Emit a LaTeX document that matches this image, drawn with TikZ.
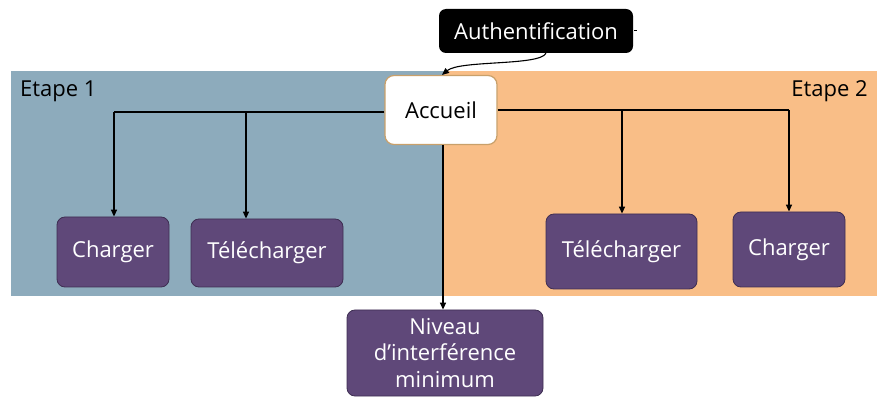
\documentclass[tikz,border=0pt]{standalone}
\usepackage{fontspec}
\setmainfont{Open Sans}
\usetikzlibrary{arrows.meta}
\definecolor{stepblue}{HTML}{8DABBC}
\definecolor{steporange}{HTML}{F9BE87}
\definecolor{boxpurple}{HTML}{5F4879}
\definecolor{boxborder}{HTML}{3E2E52}
\definecolor{accborder}{HTML}{C9A06A}
\begin{document}
\begin{tikzpicture}[x=1pt,y=-1pt,
  purplebox/.style={draw=boxborder,line width=0.8pt,fill=boxpurple,rounded corners=8pt,text=white,font=\fontsize{22}{26}\selectfont,align=center,inner sep=0pt},
  conn/.style={draw=black,line width=1.3pt,-{Triangle[length=7pt,width=6pt]}},
  lbl/.style={font=\fontsize{22}{26}\selectfont,text=black,inner sep=0pt}]
\useasboundingbox (0,0) rectangle (879,398);
\fill[stepblue] (11,71) rectangle (444,296);
\fill[steporange] (444,71) rectangle (877,296);
\node[lbl,anchor=west] (e1) at (20,91) {Etape 1};
\node[lbl,anchor=east] (e2) at (868,91) {Etape 2};
\node[draw=accborder,line width=1.2pt,fill=white,rounded corners=9pt,minimum width=112pt,minimum height=69pt,inner sep=0pt,font=\fontsize{22}{26}\selectfont] (acc) at (441,110) {Accueil};
\node[fill=black,rounded corners=7pt,minimum width=194pt,minimum height=44pt,inner sep=0pt,text=white,font=\fontsize{22}{26}\selectfont] (auth) at (536,31) {Authentification};
\node[purplebox,minimum width=112pt,minimum height=70pt] (ch1) at (113,252) {Charger};
\node[purplebox,minimum width=152pt,minimum height=68pt] (te1) at (267,253) {Télécharger};
\node[purplebox,minimum width=151pt,minimum height=75pt] (te2) at (621.5,251.5) {Télécharger};
\node[purplebox,minimum width=112pt,minimum height=75pt] (ch2) at (789,249.5) {Charger};
\node[purplebox,minimum width=196pt,minimum height=86pt,text width=190pt,font=\fontsize{22}{26.5}\selectfont] (niv) at (445,353) {Niveau\\d’interférence\\minimum};
\coordinate (lt) at (114,112);
\coordinate (rt) at (789,110);
\draw[line width=1.3pt] (acc.west |- lt) -- (lt);
\draw[conn] (lt) -- (ch1.north -| lt);
\draw[conn] (246,112) -- (te1.north -| 246,0);
\draw[line width=1.3pt] (acc.east |- rt) -- (rt);
\draw[conn] (622,110) -- (te2.north -| 622,0);
\draw[conn] (rt) -- (ch2.north -| rt);
\draw[conn] (443,145) -- (niv.north -| 443,0);
\draw[line width=1.1pt,-{Triangle[length=7pt,width=6pt]}] (auth.south -| 546,0) .. controls (540,66) and (460,60) .. (acc.north west -| 442,0);
\draw[line width=1pt] (auth.east) ++(1,0) -- ++(3,0);
\end{tikzpicture}
\end{document}
